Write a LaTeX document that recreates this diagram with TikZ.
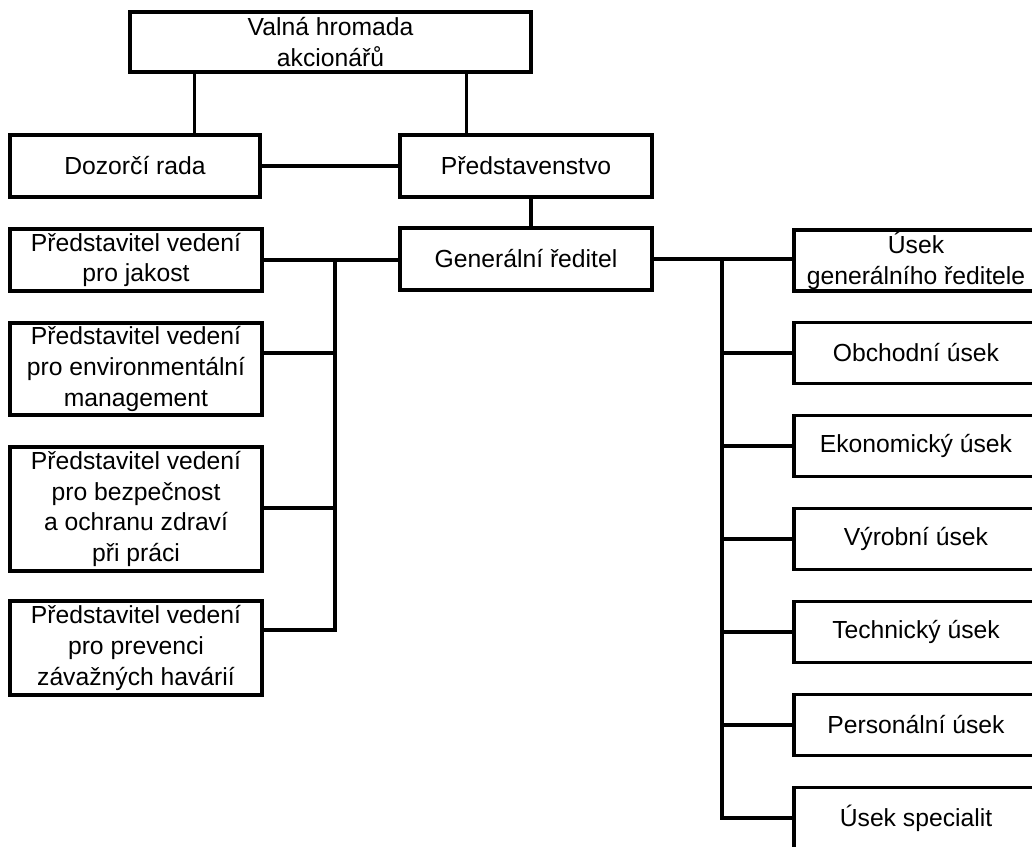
\documentclass[tikz,border=0pt]{standalone}
\usepackage{fontspec}
\setmainfont{Liberation Sans}
\begin{document}
\begin{tikzpicture}[x=1pt,y=-1pt,
  box/.style={draw=black,line width=3.2pt,fill=white,inner sep=0pt,align=center,
    font=\fontsize{24.7}{30.7}\selectfont},
  conn/.style={draw=black,line width=3.2pt,line cap=rect}]
\useasboundingbox (0,0) rectangle (1032,846);
\clip (0,0) rectangle (1032,846);
% top
\node[box,minimum width=401pt,minimum height=60pt] (valna) at (330.5,42) {Valná hromada\\akcionářů};
\node[box,minimum width=250pt,minimum height=62pt] (dozorci) at (135,166) {Dozorčí rada};
\node[box,minimum width=252pt,minimum height=62pt] (pred) at (526,166) {Představenstvo};
\node[box,minimum width=252pt,minimum height=62pt] (gen) at (526,259) {Generální ředitel};
% left column
\node[box,minimum width=252pt,minimum height=62pt] (L1) at (136,260) {Představitel vedení\\pro jakost};
\node[box,minimum width=252pt,minimum height=92pt] (L2) at (136,369) {Představitel vedení\\pro environmentální\\management};
\node[box,minimum width=252pt,minimum height=124pt] (L3) at (136,509) {Představitel vedení\\pro bezpečnost\\a ochranu zdraví\\při práci};
\node[box,minimum width=252pt,minimum height=94pt] (L4) at (136,648) {Představitel vedení\\pro prevenci\\závažných havárií};
% right column
\node[box,minimum width=244pt,minimum height=61pt] (R1) at (916,260.5) {Úsek\\generálního ředitele};
\node[box,minimum width=244pt,minimum height=61pt] (R2) at (916,353) {Obchodní úsek};
\node[box,minimum width=244pt,minimum height=61pt] (R3) at (916,446) {Ekonomický úsek};
\node[box,minimum width=244pt,minimum height=61pt] (R4) at (916,539) {Výrobní úsek};
\node[box,minimum width=244pt,minimum height=61pt] (R5) at (916,632) {Technický úsek};
\node[box,minimum width=244pt,minimum height=61pt] (R6) at (916,725) {Personální úsek};
\node[box,minimum width=244pt,minimum height=61pt] (R7) at (916,818) {Úsek specialit};
% connectors top
\draw[conn] ([xshift=66pt]valna.south west) -- ([xshift=66pt]valna.south west |- dozorci.north);
\draw[conn] ([xshift=-66pt]valna.south east) -- ([xshift=-66pt]valna.south east |- pred.north);
\draw[conn] (dozorci.east) -- (pred.west);
\draw[conn] ([xshift=5pt]pred.south) -- ([xshift=5pt]pred.south |- gen.north);
% left bus
\coordinate (lb1) at (335,260);
\coordinate (lb2) at (335,353);
\coordinate (lb3) at (335,508);
\coordinate (lb4) at (335,630);
\draw[conn] (L1.east) -- (L1.east -| gen.west);
\draw[conn] (lb1) -- (lb4);
\draw[conn] (lb2 -| L2.east) -- (lb2);
\draw[conn] (lb3 -| L3.east) -- (lb3);
\draw[conn] (lb4 -| L4.east) -- (lb4);
% right bus
\coordinate (rb1) at (722,259);
\coordinate (rb7) at (722,818);
\draw[conn] (gen.east) -- (gen.east -| R1.west);
\draw[conn] (rb1) -- (rb7);
\foreach \r in {R2,R3,R4,R5,R6,R7}{
  \draw[conn] (rb1 |- \r.west) -- (\r.west);
}
\end{tikzpicture}
\end{document}
